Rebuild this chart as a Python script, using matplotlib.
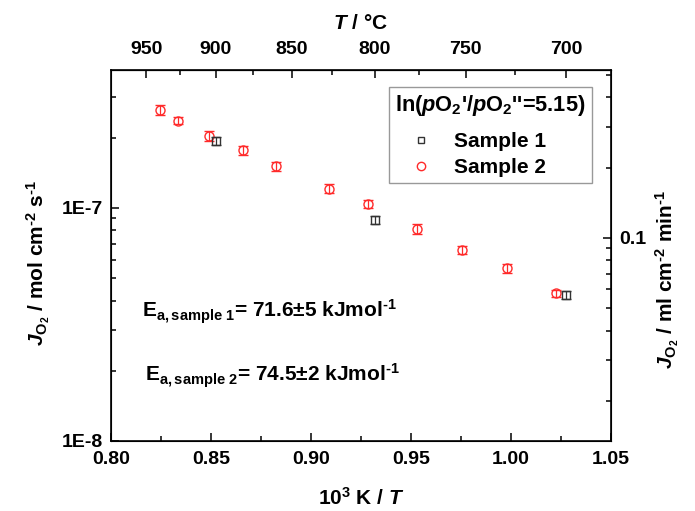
import numpy as np
import matplotlib
matplotlib.use("Agg")
import matplotlib.pyplot as plt
import matplotlib.ticker as ticker
from matplotlib.lines import Line2D

plt.rcParams['font.family'] = ['Liberation Sans', 'DejaVu Sans']
plt.rcParams['font.weight'] = 'bold'
plt.rcParams['axes.labelweight'] = 'bold'
plt.rcParams['mathtext.fontset'] = 'custom'
plt.rcParams['mathtext.rm'] = 'Liberation Sans:bold'
plt.rcParams['mathtext.it'] = 'Liberation Sans:bold:italic'
plt.rcParams['mathtext.bf'] = 'Liberation Sans:bold'

### DATA ######################################################################
# inverse temperature 10^3 K / T
x_s1 = [0.8527, 0.9319, 1.0277]
j_s1 = [1.94e-7, 8.89e-8, 4.22e-8]
err_s1 = [0.08e-7, 0.35e-8, 0.16e-8]

x_s2 = [0.8244, 0.8335, 0.8489, 0.8659, 0.8827, 0.9090,
        0.9285, 0.9532, 0.9757, 0.9979, 1.0224]
j_s2 = [2.64e-7, 2.36e-7, 2.03e-7, 1.77e-7, 1.51e-7, 1.21e-7,
        1.04e-7, 8.13e-8, 6.61e-8, 5.50e-8, 4.31e-8]
err_s2 = [0.13e-7, 0.08e-7, 0.10e-7, 0.08e-7, 0.07e-7, 0.05e-7,
          0.04e-7, 0.40e-8, 0.28e-8, 0.25e-8, 0.15e-8]

top_ticks_C = [950, 900, 850, 800, 750, 700]
top_minor_C = [925, 875, 825, 775, 725]

# mol cm-2 s-1 -> ml cm-2 min-1 (22400 ml/mol * 60 s/min)
conv = 22400 * 60

TL = 14   # tick label size
AL = 15   # axis label size

### PLOT ######################################################################
fig = plt.figure(figsize=(6.95, 5.11), dpi=100)
ax = fig.add_axes([0.1597, 0.137, 0.7194, 0.726])

ax.errorbar(x_s2, j_s2, yerr=err_s2, fmt='o', ms=6.5, mfc='none', mec='#ff2a2a',
            mew=1.0, ecolor='#ff2a2a', elinewidth=0.9, capsize=3.5, capthick=0.9,
            zorder=3)
ax.errorbar(x_s1, j_s1, yerr=err_s1, fmt='s', ms=6, mfc='none', mec='#333333',
            mew=1.0, ecolor='#333333', elinewidth=0.9, capsize=3.5, capthick=0.9,
            zorder=4)

ax.set_yscale('log')
ax.set_xlim(0.80, 1.05)
ax.set_ylim(1e-8, 3.9e-7)

ax.xaxis.set_major_locator(ticker.MultipleLocator(0.05))
ax.xaxis.set_minor_locator(ticker.MultipleLocator(0.025))
ax.xaxis.set_major_formatter(ticker.FormatStrFormatter('%.2f'))
ax.yaxis.set_major_locator(ticker.FixedLocator([1e-8, 1e-7]))
ax.yaxis.set_major_formatter(ticker.FixedFormatter(['1E-8', '1E-7']))
ax.yaxis.set_minor_locator(ticker.LogLocator(base=10, subs=np.arange(2, 10)))
ax.yaxis.set_minor_formatter(ticker.NullFormatter())

ax.tick_params(which='both', direction='in', labelsize=TL, width=1.1)
ax.tick_params(which='major', length=6)
ax.tick_params(which='minor', length=3.5)
ax.tick_params(axis='x', pad=7)
ax.tick_params(axis='y', pad=6)
for sp in ax.spines.values():
    sp.set_linewidth(1.2)

ax.set_xlabel(r'10$^3$ K / $\it{T}$', fontsize=AL, labelpad=14)
ax.set_ylabel(r'$\it{J}_{\rm{O_2}}$ / mol cm$^{\text{-2}}$ s$^{\text{-1}}$',
              fontsize=AL, labelpad=7)
ax.yaxis.label.set_y(0.48)

# top axis in deg C
top = ax.secondary_xaxis('top', functions=(lambda x: 1000.0 / x - 273.15,
                                           lambda t: 1000.0 / (t + 273.15)))
top.xaxis.set_major_locator(ticker.FixedLocator(top_ticks_C))
top.xaxis.set_minor_locator(ticker.FixedLocator(top_minor_C))
top.tick_params(which='both', direction='in', labelsize=TL, width=1.1, pad=9)
top.tick_params(which='major', length=6)
top.tick_params(which='minor', length=3.5)
top.set_xlabel(r'$\it{T}$ / °C', fontsize=AL, labelpad=8)

# right axis in ml cm-2 min-1
ax2 = ax.twinx()
ax2.set_yscale('log')
ax2.set_ylim(1e-8 * conv, 3.9e-7 * conv)
ax2.yaxis.set_major_locator(ticker.FixedLocator([0.1]))
ax2.yaxis.set_major_formatter(ticker.FixedFormatter(['0.1']))
ax2.yaxis.set_minor_locator(ticker.LogLocator(base=10, subs=np.arange(2, 10)))
ax2.yaxis.set_minor_formatter(ticker.NullFormatter())
ax2.tick_params(which='both', direction='in', labelsize=TL, width=1.1, pad=6)
ax2.tick_params(which='major', length=6)
ax2.tick_params(which='minor', length=3.5)
ax2.set_ylabel(r'$\it{J}_{\rm{O_2}}$ / ml cm$^{\text{-2}}$ min$^{\text{-1}}$',
               fontsize=AL, labelpad=5)
ax2.yaxis.label.set_y(0.434)

for a in (ax, ax2, top):
    for lbl in a.get_xticklabels() + a.get_yticklabels():
        lbl.set_fontweight('bold')

handles = [Line2D([], [], ls='none', marker='s', ms=5, mfc='none', mec='#333333', mew=1.0),
           Line2D([], [], ls='none', marker='o', ms=6, mfc='none', mec='#ff2a2a', mew=1.0)]
leg = ax2.legend(handles, ['Sample 1', 'Sample 2'], loc='upper right',
                 bbox_to_anchor=(0.962, 0.954), borderaxespad=0,
                 title=r"ln($\it{p}$O$_2$'/$\it{p}$O$_2$''=5.15)",
                 title_fontsize=15.7, fontsize=15, fancybox=False, framealpha=1,
                 edgecolor='#999999', alignment='left', handlelength=2.5,
                 handletextpad=0.3, labelspacing=0.32, borderpad=0.3)
leg.get_title().set_fontweight('bold')
for t in leg.get_texts():
    t.set_fontweight('bold')
leg._legend_box.sep = 10

ax.text(0.063, 0.332, r'E$_{\rm{a,sample\ 1}}$= 71.6$\pm$5 kJmol$^{\text{-1}}$',
        transform=ax.transAxes, fontsize=15, va='baseline')
ax.text(0.069, 0.160, r'E$_{\rm{a,sample\ 2}}$= 74.5$\pm$2 kJmol$^{\text{-1}}$',
        transform=ax.transAxes, fontsize=15, va='baseline')

fig.savefig('out.png', dpi=100)
